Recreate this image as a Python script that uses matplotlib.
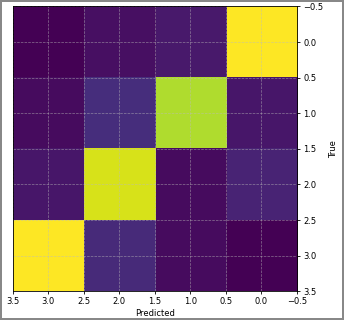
import matplotlib
matplotlib.use('Agg')
import matplotlib.pyplot as plt
import numpy as np

# confusion matrix values (rows = true, cols = predicted)
row_0 = [100, 7, 4, 0]
row_1 = [6, 88, 13, 3]
row_2 = [10, 3, 94, 6]
row_3 = [0, 3, 12, 100]
x_label = 'Predicted'
y_label = 'True'

cm = np.array([row_0, row_1, row_2, row_3])

fig = plt.figure(figsize=(3.44, 3.2), dpi=100)
fig.patch.set_edgecolor('#888888')
fig.patch.set_linewidth(1.5)
ax = fig.add_axes([0.037, 0.09, 0.826, 0.89])

ax.imshow(cm, cmap='viridis', aspect='auto')
ax.set_xlim(3.5, -0.5)
ax.set_ylim(3.5, -0.5)
ax.set_xticks(np.arange(-0.5, 3.6, 0.5))
ax.set_yticks(np.arange(-0.5, 3.6, 0.5))
ax.grid(True, color='#bbbbbb', linestyle='--', linewidth=0.5, alpha=0.6)

ax.yaxis.tick_right()
ax.yaxis.set_label_position('right')
ax.tick_params(labelsize=6, length=2.5, width=0.6, pad=2)
ax.set_xlabel(x_label, fontsize=6, labelpad=2)
ax.set_ylabel(y_label, fontsize=6, labelpad=4)
for s in ax.spines.values():
    s.set_linewidth(0.6)

fig.savefig('out.png', dpi=100)
